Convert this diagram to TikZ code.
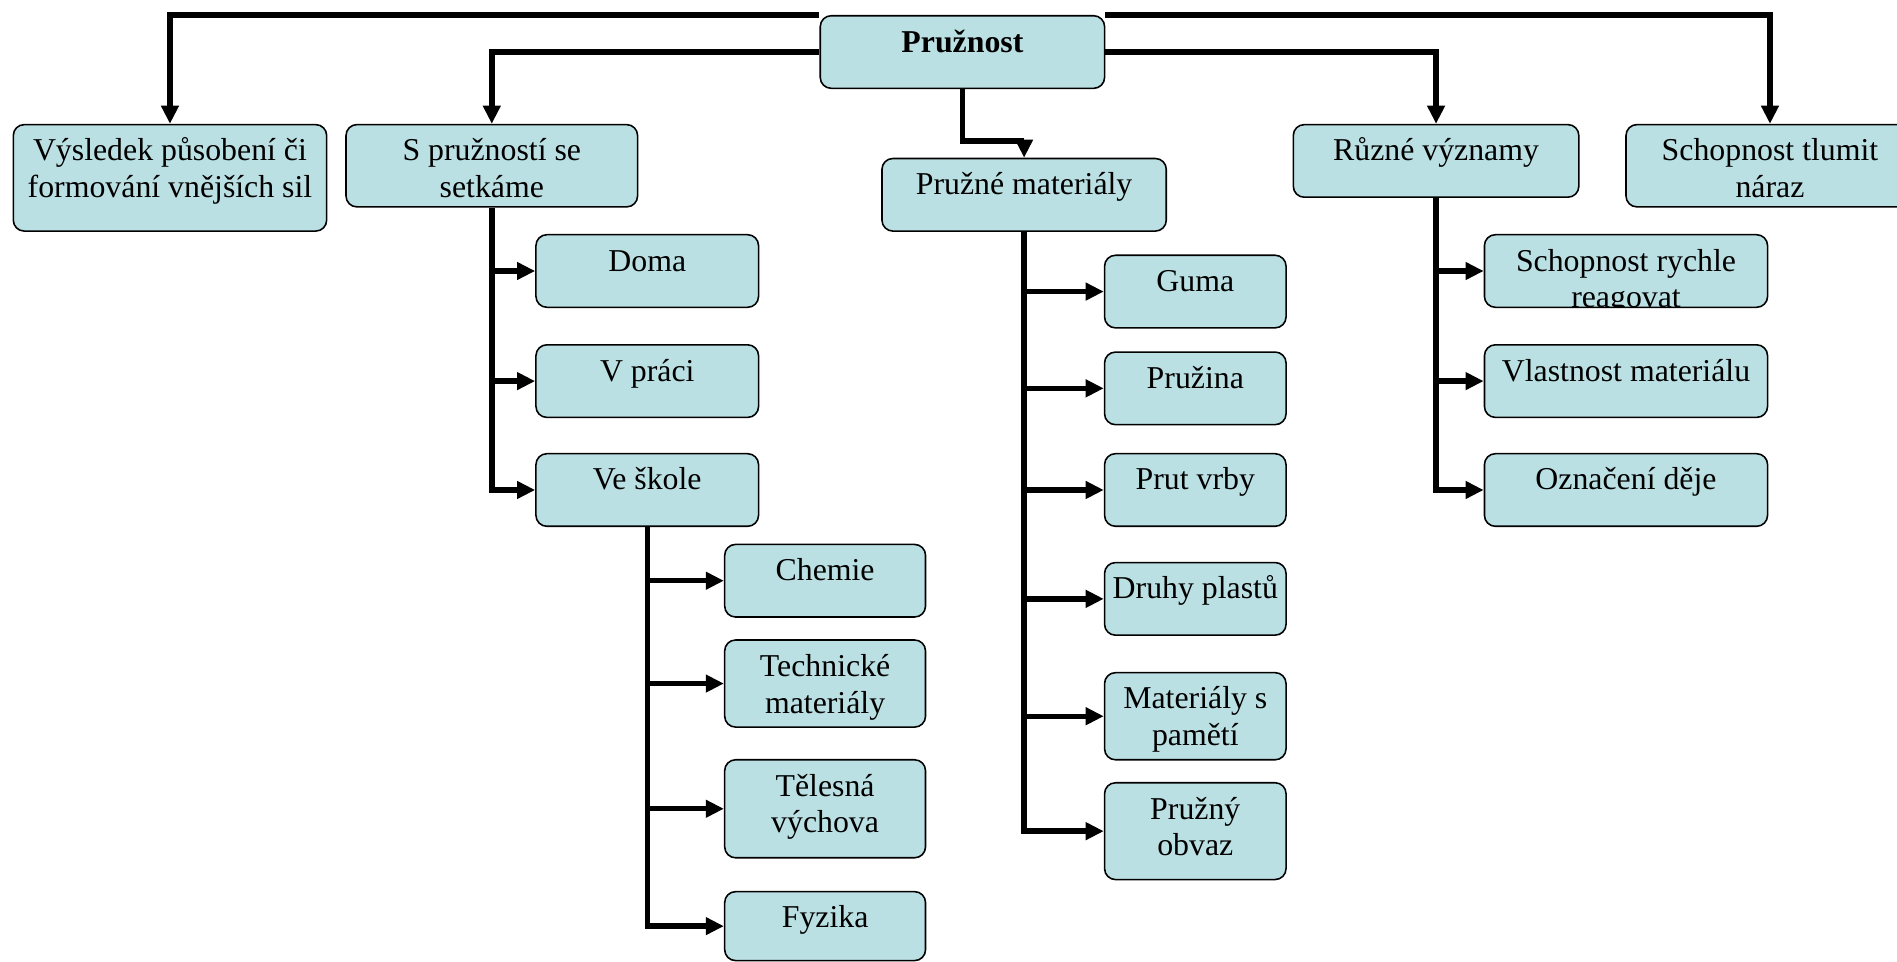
\documentclass[tikz,border=0pt]{standalone}
\usepackage{fontspec}
\setmainfont{Liberation Serif}
\usetikzlibrary{arrows.meta,backgrounds}
\definecolor{boxfill}{HTML}{BBE0E3}
\begin{document}
\begin{tikzpicture}[x=1pt,y=-1pt,
  link/.style={line width=4.5pt},
  conn/.style={link, -{Triangle[length=15pt,width=14pt]}},
  txt/.style={font=\fontsize{26.3}{30.5}\selectfont, inner sep=0pt, anchor=base},
  box/.style={draw=black, line width=1.3pt, fill=boxfill, rounded corners=9pt, inner sep=0pt,
    path picture={\node[txt] at ([yshift=-30pt]path picture bounding box.north)
      {\begin{tabular}[t]{@{}c@{}}#1\end{tabular}};}},
]
\useasboundingbox (0,0) rectangle (1568,795);
\clip (0,0) rectangle (1568,795);

% root
\node[box={\textbf{Pružnost}}, minimum width=235pt, minimum height=60pt] (pruz) at (795.5,43) {};

% first level
\node[box={Výsledek působení či\\formování vnějších sil}, minimum width=259pt, minimum height=88pt] (vysl) at (140.5,147) {};
\node[box={S pružností se\\setkáme}, minimum width=241pt, minimum height=68pt] (spruz) at (406.5,137) {};
\node[box={Pružné materiály}, minimum width=235pt, minimum height=60pt] (pmat) at (846.5,161) {};
\node[box={Různé významy}, minimum width=236pt, minimum height=60pt] (ruzne) at (1187,133) {};
\node[box={Schopnost tlumit\\náraz}, minimum width=238pt, minimum height=68pt] (tlumit) at (1463,137) {};

% places
\node[box={Doma}, minimum width=184pt, minimum height=60pt] (doma) at (535,224) {};
\node[box={V práci}, minimum width=184pt, minimum height=60pt] (vpraci) at (535,315) {};
\node[box={Ve škole}, minimum width=184pt, minimum height=60pt] (veskole) at (535,405) {};

% school subjects
\node[box={Chemie}, minimum width=166pt, minimum height=60pt] (chemie) at (682,480) {};
\node[box={Technické\\materiály}, minimum width=166pt, minimum height=72pt] (tech) at (682,565) {};
\node[box={Tělesná\\výchova}, minimum width=166pt, minimum height=81pt] (telesna) at (682,668.5) {};
\node[box={Fyzika}, minimum width=166pt, minimum height=57pt] (fyzika) at (682,765.5) {};

% materials
\node[box={Guma}, minimum width=150pt, minimum height=60pt] (guma) at (988,241) {};
\node[box={Pružina}, minimum width=150pt, minimum height=60pt] (pruzina) at (988,321) {};
\node[box={Prut vrby}, minimum width=150pt, minimum height=60pt] (prut) at (988,405) {};
\node[box={Druhy plastů}, minimum width=150pt, minimum height=60pt] (plasty) at (988,495) {};
\node[box={Materiály s\\pamětí}, minimum width=150pt, minimum height=72pt] (pamet) at (988,592) {};
\node[box={Pružný\\obvaz}, minimum width=150pt, minimum height=80pt] (obvaz) at (988,687) {};

% meanings
\node[box={Schopnost rychle\\reagovat}, minimum width=234pt, minimum height=60pt] (rychle) at (1344,224) {};
\node[box={Vlastnost materiálu}, minimum width=234pt, minimum height=60pt] (vlast) at (1344,315) {};
\node[box={Označení děje}, minimum width=234pt, minimum height=60pt] (oznac) at (1344,405) {};

\begin{pgfonlayer}{background}
% from the root
\draw[conn] (pruz.north west) -- (pruz.north west -| vysl.north) -- (vysl.north);
\draw[conn] (pruz.west) -- (pruz.west -| spruz.north) -- (spruz.north);
\draw[conn] (pruz.east) -- (pruz.east -| ruzne.north) -- (ruzne.north);
\draw[conn] (pruz.north east) -- (pruz.north east -| tlumit.north) -- (tlumit.north);
\draw[conn] (pruz.south) -- ++(0,43) -| (pmat.north);

% places
\draw[conn] (spruz.south) -- (spruz.south |- veskole.west) -- (veskole.west);
\draw[conn] (spruz.south |- doma.west) -- (doma.west);
\draw[conn] (spruz.south |- vpraci.west) -- (vpraci.west);

% school subjects
\draw[conn] (veskole.south) -- (veskole.south |- fyzika.west) -- (fyzika.west);
\draw[conn] (veskole.south |- chemie.west) -- (chemie.west);
\draw[conn] (veskole.south |- tech.west) -- (tech.west);
\draw[conn] (veskole.south |- telesna.west) -- (telesna.west);

% materials
\draw[conn] (pmat.south) -- (pmat.south |- obvaz.west) -- (obvaz.west);
\draw[conn] (pmat.south |- guma.west) -- (guma.west);
\draw[conn] (pmat.south |- pruzina.west) -- (pruzina.west);
\draw[conn] (pmat.south |- prut.west) -- (prut.west);
\draw[conn] (pmat.south |- plasty.west) -- (plasty.west);
\draw[conn] (pmat.south |- pamet.west) -- (pamet.west);

% meanings
\draw[conn] (ruzne.south) -- (ruzne.south |- oznac.west) -- (oznac.west);
\draw[conn] (ruzne.south |- rychle.west) -- (rychle.west);
\draw[conn] (ruzne.south |- vlast.west) -- (vlast.west);
\end{pgfonlayer}
\end{tikzpicture}
\end{document}
